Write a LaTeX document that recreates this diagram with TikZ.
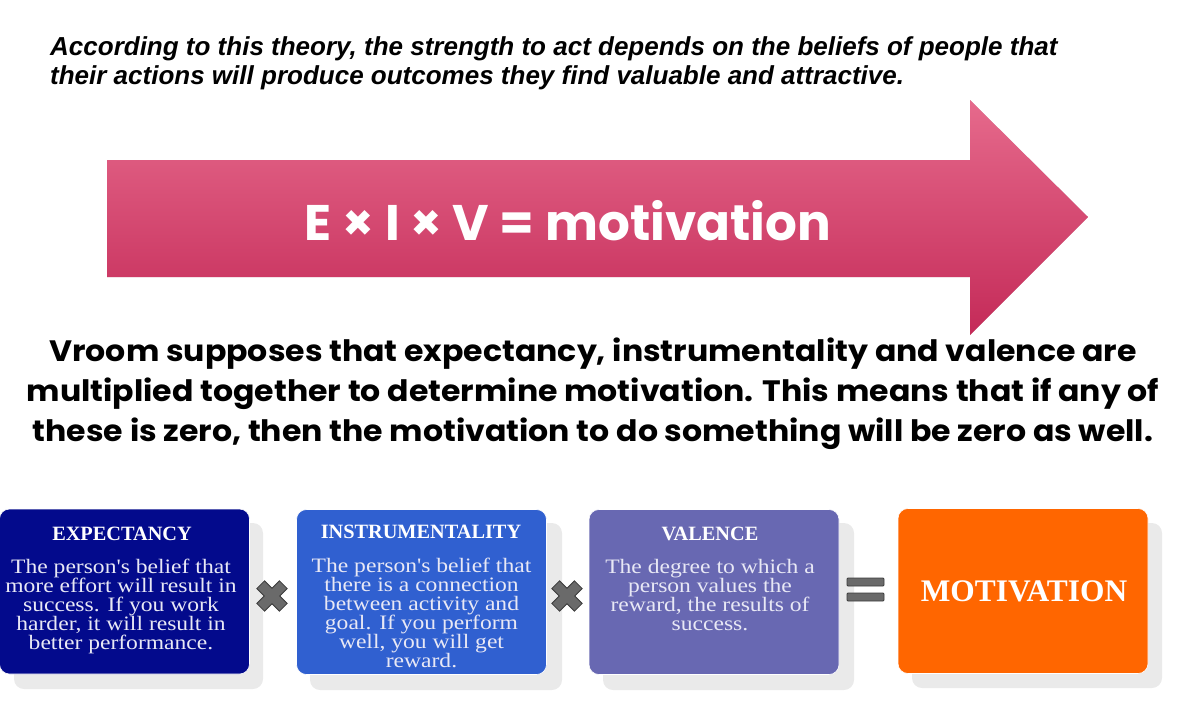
\documentclass[tikz,border=0pt]{standalone}
\usepackage{fontspec}
\setmainfont{Liberation Serif}
\newfontfamily\arialf{Liberation Sans}
\newfontfamily\popf{Poppins}
\usetikzlibrary{positioning}
\definecolor{expc}{RGB}{3,10,140}
\definecolor{instc}{RGB}{48,96,208}
\definecolor{valc}{RGB}{104,104,178}
\definecolor{motc}{RGB}{255,102,0}
\definecolor{shadc}{RGB}{234,234,234}
\definecolor{boxtxt}{RGB}{232,232,245}
\definecolor{arrtop}{RGB}{230,106,140}
\definecolor{arrbot}{RGB}{196,42,88}
\definecolor{signc}{RGB}{106,106,106}
\definecolor{signd}{RGB}{60,60,60}
\tikzset{
  card/.style={rounded corners=10pt, minimum width=250pt, minimum height=165pt, inner sep=0pt, draw=white, line width=0.6pt},
  cardshadow/.style={rounded corners=10pt, fill=shadc},
  cardtitle/.style={text=white, font=\bfseries\fontsize{20.3}{22}\selectfont, inner sep=0pt},
  cardbody/.style={text=boxtxt, align=center, font=\fontsize{20.5}{19}\selectfont, inner sep=0pt, anchor=base, xscale=1.15, transform shape},
  signshape/.style={fill=signc, draw=signd, line width=0.8pt},
  arrshadow/.style={fill=black, opacity=0.07},
}
\begin{document}
\begin{tikzpicture}[x=1pt,y=-1pt]
\useasboundingbox (0,0) rectangle (1178,713);
% intro text
\node[anchor=base west, inner sep=0pt, align=left,
  font=\arialf\bfseries\itshape\fontsize{26}{29}\selectfont] (intro) at (50,84.5)
  {According to this theory, the strength to act depends on the beliefs of people that\\their actions will produce outcomes they find valuable and attractive.};
% arrow
\coordinate (a1) at (107,160);
\coordinate (a2) at (970,160);
\coordinate (a3) at (970,100);
\coordinate (a4) at (1088,217);
\coordinate (a5) at (970,335);
\coordinate (a6) at (970,277);
\coordinate (a7) at (107,277);
\foreach \dx/\dy in {2/-2, 3/-4, 4/-6}{
  \fill[arrshadow, xshift=\dx pt, yshift=\dy pt] (a1) -- (a2) -- (a3) -- (a4) -- (a5) -- (a6) -- (a7) -- cycle;
}
\shade[top color=arrtop, bottom color=arrbot] (a1) -- (a2) -- (a3) -- (a4) -- (a5) -- (a6) -- (a7) -- cycle;
\node[text=white, inner sep=0pt, font=\popf\bfseries\fontsize{50}{56}\selectfont] (formula) at (568,221) {E × I × V = motivation};
% middle text
\node[anchor=north, inner sep=0pt, align=center, xscale=1.07, transform shape, font=\popf\bfseries\fontsize{29.5}{40}\selectfont] (vroom) at (593,338)
  {Vroom supposes that expectancy, instrumentality and valence are\\multiplied together to determine motivation. This means that if any of\\these is zero, then the motivation to do something will be zero as well.};
% card shadows
\fill[cardshadow] (14,523) rectangle (263,689);
\fill[cardshadow] (310,523) rectangle (562,690);
\fill[cardshadow] (603,523) rectangle (854,690);
\fill[cardshadow] (912,523) rectangle (1162,688);
% cards
\node[card, fill=expc] (exp) at (124.5,591.5) {};
\node[card, fill=instc] (inst) at (421.5,592) {};
\node[card, fill=valc] (val) at (714,592) {};
\node[card, fill=motc] (mot) at (1023,591) {};
% titles
\node[cardtitle, anchor=base] (expt) at (122,540) {EXPECTANCY};
\node[cardtitle, anchor=base] (instt) at (421,538.5) {INSTRUMENTALITY};
\node[cardtitle, anchor=base] (valt) at (710,540) {VALENCE};
\node[text=white, inner sep=0pt, anchor=base, font=\bfseries\fontsize{31.4}{33}\selectfont] (mott) at (1024,601.5) {MOTIVATION};
% bodies
\node[cardbody] (expb) at (121,649) {The person\textquotesingle s belief that\\more effort will result in\\success. If you work\\harder, it will result in\\better performance.};
\node[cardbody] (instb) at (421.5,667) {The person\textquotesingle s belief that\\there is a connection\\between activity and\\goal. If you perform\\well, you will get\\reward.};
\node[cardbody] (valb) at (710,630) {The degree to which a\\person values the\\reward, the results of\\success.};
% multiplication signs
\foreach \cx/\nm in {272/x1, 567/x2}{
  \coordinate (\nm) at (\cx,596);
  \begin{scope}[shift={(\nm)}, rotate=45]
    \path[signshape] (5.5,16) -- (5.5,5.5) -- (16,5.5) -- (16,-5.5) -- (5.5,-5.5) -- (5.5,-16) -- (-5.5,-16) -- (-5.5,-5.5) -- (-16,-5.5) -- (-16,5.5) -- (-5.5,5.5) -- (-5.5,16) -- cycle;
  \end{scope}
}
% equals sign
\coordinate (eqc) at (865.5,589.5);
\path[signshape, rounded corners=1pt] (847,578) rectangle (884,586);
\path[signshape, rounded corners=1pt] (847,593) rectangle (884,601);
\end{tikzpicture}
\end{document}
